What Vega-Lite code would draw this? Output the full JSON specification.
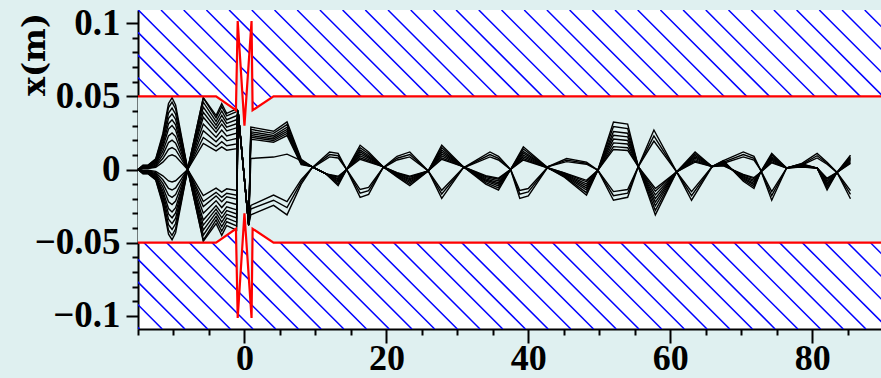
{
  "$schema": "https://vega.github.io/schema/vega-lite/v6.json",
  "width": 743,
  "height": 319,
  "autosize": {"type": "none"},
  "padding": {"left": 138, "top": 10, "right": 0, "bottom": 49},
  "background": "#dff0f0",
  "config": {
    "view": {"stroke": null, "fill": "#ffffff"},
    "axis": {
      "domainColor": "#000000", "domainWidth": 2,
      "tickColor": "#000000", "tickWidth": 2,
      "grid": false,
      "labelFont": "Liberation Serif", "labelFontWeight": "bold", "labelFontSize": 36, "labelColor": "#000000",
      "labelOverlap": false, "labelFlush": false, "labelBound": false
    }
  },
  "datasets": {
    "hatch": [
      {"x": -59.741}, {"x": -56.542}, {"x": -53.344}, {"x": -50.145}, {"x": -46.946}, {"x": -43.747}, {"x": -40.548}, {"x": -37.35},
      {"x": -34.151}, {"x": -30.952}, {"x": -27.753}, {"x": -24.554}, {"x": -21.356}, {"x": -18.157}, {"x": -14.958}, {"x": -11.759},
      {"x": -8.56}, {"x": -5.362}, {"x": -2.163}, {"x": 1.036}, {"x": 4.235}, {"x": 7.434}, {"x": 10.632}, {"x": 13.831},
      {"x": 17.03}, {"x": 20.229}, {"x": 23.428}, {"x": 26.626}, {"x": 29.825}, {"x": 33.024}, {"x": 36.223}, {"x": 39.422},
      {"x": 42.62}, {"x": 45.819}, {"x": 49.018}, {"x": 52.217}, {"x": 55.416}, {"x": 58.614}, {"x": 61.813}, {"x": 65.012},
      {"x": 68.211}, {"x": 71.41}, {"x": 74.608}, {"x": 77.807}, {"x": 81.006}, {"x": 84.205}, {"x": 87.404}
    ],
    "wall": [
      {"x": -15, "y": 0.05, "lo": -0.05},
      {"x": -4, "y": 0.05, "lo": -0.05},
      {"x": -1.2, "y": 0.0405, "lo": -0.0405},
      {"x": -0.95, "y": 0.1015, "lo": -0.1015},
      {"x": 0, "y": 0.03, "lo": -0.03},
      {"x": 1, "y": 0.1015, "lo": -0.1015},
      {"x": 1.15, "y": 0.0405, "lo": -0.0405},
      {"x": 4.1, "y": 0.05, "lo": -0.05},
      {"x": 89.7, "y": 0.05, "lo": -0.05}
    ],
    "beam": [
      {"id":"t01","x":-15,"y":0},{"id":"t01","x":-14.3,"y":0.0029},{"id":"t01","x":-13.6,"y":0.0029},{"id":"t01","x":-12.5,"y":0.0074},{"id":"t01","x":-11.5,"y":0.0245},{"id":"t01","x":-10.7,"y":0.0451},{"id":"t01","x":-10.2,"y":0.049},{"id":"t01","x":-9.7,"y":0.0441},{"id":"t01","x":-8,"y":0},{"id":"t01","x":-5.8,"y":-0.049},{"id":"t01","x":-4,"y":-0.0369},{"id":"t01","x":-3.2,"y":-0.045},{"id":"t01","x":-2.5,"y":-0.0383},{"id":"t01","x":-1.1,"y":-0.0414},{"id":"t01","x":-0.9,"y":0.04},
      {"id":"t01","x":0.6,"y":-0.038},{"id":"t01","x":0.9,"y":-0.031},{"id":"t01","x":4.1,"y":-0.0245},{"id":"t01","x":6,"y":-0.031},{"id":"t01","x":8,"y":-0.01},{"id":"t01","x":9.5,"y":0.001},{"id":"t01","x":12,"y":0.012},{"id":"t01","x":13.2,"y":0.011},{"id":"t01","x":14.4,"y":0},{"id":"t01","x":16.3,"y":-0.019},{"id":"t01","x":17.5,"y":-0.017},{"id":"t01","x":19.5,"y":0.001},{"id":"t01","x":21.5,"y":0.009},{"id":"t01","x":23.3,"y":0.012},{"id":"t01","x":25.9,"y":-0.001},{"id":"t01","x":27.8,"y":-0.0197},{"id":"t01","x":30.8,"y":0.001},{"id":"t01","x":34.6,"y":0.012},{"id":"t01","x":35.8,"y":0.009},{"id":"t01","x":37.5,"y":0},{"id":"t01","x":38.8,"y":-0.0198},{"id":"t01","x":40,"y":-0.018},{"id":"t01","x":42.8,"y":0.002},{"id":"t01","x":45.4,"y":0.0075},{"id":"t01","x":48.2,"y":0.005},{"id":"t01","x":49.8,"y":-0.0005},{"id":"t01","x":52,"y":-0.021},{"id":"t01","x":54,"y":-0.019},{"id":"t01","x":55.5,"y":0.002},{"id":"t01","x":57.7,"y":0.027},{"id":"t01","x":60.9,"y":-0.0016},{"id":"t01","x":63,"y":-0.021},{"id":"t01","x":65.9,"y":0.002},{"id":"t01","x":67.5,"y":0.006},{"id":"t01","x":70.3,"y":0.012},{"id":"t01","x":71.8,"y":0.009},{"id":"t01","x":72.7,"y":0},{"id":"t01","x":74.3,"y":-0.021},{"id":"t01","x":76.4,"y":0.001},{"id":"t01","x":78.5,"y":0.004},{"id":"t01","x":80.7,"y":0.011},{"id":"t01","x":82.1,"y":0.005},{"id":"t01","x":83.5,"y":-0.002},{"id":"t01","x":85.4,"y":-0.02},

      {"id":"t02","x":-15,"y":0},{"id":"t02","x":-14.3,"y":0.0028},{"id":"t02","x":-13.6,"y":0.0028},{"id":"t02","x":-12.5,"y":0.0069},{"id":"t02","x":-11.5,"y":0.023},{"id":"t02","x":-10.7,"y":0.0423},{"id":"t02","x":-10.2,"y":0.046},{"id":"t02","x":-9.7,"y":0.0414},{"id":"t02","x":-8,"y":0},{"id":"t02","x":-5.8,"y":-0.0483},{"id":"t02","x":-4,"y":-0.0344},{"id":"t02","x":-3.2,"y":-0.042},{"id":"t02","x":-2.5,"y":-0.0357},{"id":"t02","x":-1.1,"y":-0.0386},{"id":"t02","x":-0.9,"y":0.04},
      {"id":"t02","x":0.6,"y":-0.038},{"id":"t02","x":0.9,"y":-0.027},{"id":"t02","x":4.1,"y":-0.021},{"id":"t02","x":6,"y":-0.026},{"id":"t02","x":8,"y":-0.0085},{"id":"t02","x":9.5,"y":0.001},{"id":"t02","x":12,"y":0.0102},{"id":"t02","x":13.2,"y":0.0094},{"id":"t02","x":14.4,"y":0},{"id":"t02","x":16.3,"y":-0.0162},{"id":"t02","x":17.5,"y":-0.0145},{"id":"t02","x":19.5,"y":0.001},{"id":"t02","x":21.5,"y":0.0077},{"id":"t02","x":23.3,"y":0.0102},{"id":"t02","x":25.9,"y":-0.001},{"id":"t02","x":27.8,"y":-0.0167},{"id":"t02","x":30.8,"y":0.001},{"id":"t02","x":34.6,"y":0.0102},{"id":"t02","x":35.8,"y":0.0077},{"id":"t02","x":37.5,"y":0},{"id":"t02","x":38.8,"y":-0.0168},{"id":"t02","x":40,"y":-0.0153},{"id":"t02","x":42.8,"y":0.002},{"id":"t02","x":45.4,"y":0.0064},{"id":"t02","x":48.2,"y":0.0043},{"id":"t02","x":49.8,"y":-0.0005},{"id":"t02","x":52,"y":-0.0179},{"id":"t02","x":54,"y":-0.0162},{"id":"t02","x":55.5,"y":0.002},{"id":"t02","x":57.7,"y":0.023},{"id":"t02","x":60.9,"y":-0.0016},{"id":"t02","x":63,"y":-0.0179},{"id":"t02","x":65.9,"y":0.002},{"id":"t02","x":67.5,"y":0.0051},{"id":"t02","x":70.3,"y":0.0102},{"id":"t02","x":71.8,"y":0.0077},{"id":"t02","x":72.7,"y":0},{"id":"t02","x":74.3,"y":-0.0179},{"id":"t02","x":76.4,"y":0.001},{"id":"t02","x":78.5,"y":0.0034},{"id":"t02","x":80.7,"y":0.0094},{"id":"t02","x":82.1,"y":0.0043},{"id":"t02","x":83.5,"y":-0.002},{"id":"t02","x":85.4,"y":-0.017},

      {"id":"t03","x":-15,"y":0},{"id":"t03","x":-14.3,"y":0.0025},{"id":"t03","x":-13.6,"y":0.0025},{"id":"t03","x":-12.5,"y":0.0063},{"id":"t03","x":-11.5,"y":0.021},{"id":"t03","x":-10.7,"y":0.0386},{"id":"t03","x":-10.2,"y":0.042},{"id":"t03","x":-9.7,"y":0.0378},{"id":"t03","x":-8,"y":0},{"id":"t03","x":-5.8,"y":-0.0449},{"id":"t03","x":-4,"y":-0.032},{"id":"t03","x":-3.2,"y":-0.039},{"id":"t03","x":-2.5,"y":-0.0332},{"id":"t03","x":-1.1,"y":-0.0359},{"id":"t03","x":-0.9,"y":0.04},
      {"id":"t03","x":0.6,"y":-0.038},{"id":"t03","x":0.9,"y":-0.0245},{"id":"t03","x":4.1,"y":-0.0175},{"id":"t03","x":6,"y":-0.022},{"id":"t03","x":8,"y":-0.007},{"id":"t03","x":9.5,"y":0.001},{"id":"t03","x":12,"y":0.0086},{"id":"t03","x":13.2,"y":0.0079},{"id":"t03","x":14.4,"y":0},{"id":"t03","x":16.3,"y":-0.0137},{"id":"t03","x":17.5,"y":-0.0122},{"id":"t03","x":19.5,"y":0.001},{"id":"t03","x":21.5,"y":0.0065},{"id":"t03","x":23.3,"y":0.0086},{"id":"t03","x":25.9,"y":-0.001},{"id":"t03","x":27.8,"y":-0.0142},{"id":"t03","x":30.8,"y":0.001},{"id":"t03","x":34.6,"y":0.0086},{"id":"t03","x":35.8,"y":0.0065},{"id":"t03","x":37.5,"y":0},{"id":"t03","x":38.8,"y":-0.0143},{"id":"t03","x":40,"y":-0.013},{"id":"t03","x":42.8,"y":0.002},{"id":"t03","x":45.4,"y":0.0054},{"id":"t03","x":48.2,"y":0.0036},{"id":"t03","x":49.8,"y":-0.0005},{"id":"t03","x":52,"y":-0.0151},{"id":"t03","x":54,"y":-0.0137},{"id":"t03","x":55.5,"y":0.002},{"id":"t03","x":57.7,"y":0.0194},{"id":"t03","x":60.9,"y":-0.0016},{"id":"t03","x":63,"y":-0.0151},{"id":"t03","x":65.9,"y":0.002},{"id":"t03","x":67.5,"y":0.0043},{"id":"t03","x":70.3,"y":0.0086},{"id":"t03","x":71.8,"y":0.0065},{"id":"t03","x":72.7,"y":0},{"id":"t03","x":74.3,"y":-0.0151},{"id":"t03","x":76.4,"y":0.001},{"id":"t03","x":78.5,"y":0.0029},{"id":"t03","x":80.7,"y":0.0079},{"id":"t03","x":82.1,"y":0.0036},{"id":"t03","x":83.5,"y":-0.002},{"id":"t03","x":85.4,"y":-0.0144},

      {"id":"t04","x":-15,"y":0},{"id":"t04","x":-14.3,"y":0.0023},{"id":"t04","x":-13.6,"y":0.0023},{"id":"t04","x":-12.5,"y":0.0057},{"id":"t04","x":-11.5,"y":0.019},{"id":"t04","x":-10.7,"y":0.035},{"id":"t04","x":-10.2,"y":0.038},{"id":"t04","x":-9.7,"y":0.0342},{"id":"t04","x":-8,"y":0},{"id":"t04","x":-5.8,"y":-0.0414},{"id":"t04","x":-4,"y":-0.0295},{"id":"t04","x":-3.2,"y":-0.036},{"id":"t04","x":-2.5,"y":-0.0306},{"id":"t04","x":-1.1,"y":-0.0331},{"id":"t04","x":-0.9,"y":0.04},
      {"id":"t05","x":-15,"y":0},{"id":"t05","x":-14.3,"y":0.002},{"id":"t05","x":-13.6,"y":0.002},{"id":"t05","x":-12.5,"y":0.0051},{"id":"t05","x":-11.5,"y":0.017},{"id":"t05","x":-10.7,"y":0.0313},{"id":"t05","x":-10.2,"y":0.034},{"id":"t05","x":-9.7,"y":0.0306},{"id":"t05","x":-8,"y":0},{"id":"t05","x":-5.8,"y":-0.038},{"id":"t05","x":-4,"y":-0.0271},{"id":"t05","x":-3.2,"y":-0.033},{"id":"t05","x":-2.5,"y":-0.0281},{"id":"t05","x":-1.1,"y":-0.0304},{"id":"t05","x":-0.9,"y":0.04},
      {"id":"t06","x":-15,"y":0},{"id":"t06","x":-14.3,"y":0.0018},{"id":"t06","x":-13.6,"y":0.0018},{"id":"t06","x":-12.5,"y":0.0045},{"id":"t06","x":-11.5,"y":0.015},{"id":"t06","x":-10.7,"y":0.0276},{"id":"t06","x":-10.2,"y":0.03},{"id":"t06","x":-9.7,"y":0.027},{"id":"t06","x":-8,"y":0},{"id":"t06","x":-5.8,"y":-0.0345},{"id":"t06","x":-4,"y":-0.0246},{"id":"t06","x":-3.2,"y":-0.03},{"id":"t06","x":-2.5,"y":-0.0255},{"id":"t06","x":-1.1,"y":-0.0276},{"id":"t06","x":-0.9,"y":0.04},
      {"id":"t07","x":-15,"y":0},{"id":"t07","x":-14.3,"y":0.0015},{"id":"t07","x":-13.6,"y":0.0015},{"id":"t07","x":-12.5,"y":0.0038},{"id":"t07","x":-11.5,"y":0.0125},{"id":"t07","x":-10.7,"y":0.023},{"id":"t07","x":-10.2,"y":0.025},{"id":"t07","x":-9.7,"y":0.0225},{"id":"t07","x":-8,"y":0},{"id":"t07","x":-5.8,"y":-0.0299},{"id":"t07","x":-4,"y":-0.0213},{"id":"t07","x":-3.2,"y":-0.026},{"id":"t07","x":-2.5,"y":-0.0221},{"id":"t07","x":-1.1,"y":-0.0239},{"id":"t07","x":-0.9,"y":0.04},
      {"id":"t08","x":-15,"y":0},{"id":"t08","x":-14.3,"y":0.0012},{"id":"t08","x":-13.6,"y":0.0012},{"id":"t08","x":-12.5,"y":0.003},{"id":"t08","x":-11.5,"y":0.01},{"id":"t08","x":-10.7,"y":0.0184},{"id":"t08","x":-10.2,"y":0.02},{"id":"t08","x":-9.7,"y":0.018},{"id":"t08","x":-8,"y":0},{"id":"t08","x":-5.8,"y":-0.0253},{"id":"t08","x":-4,"y":-0.018},{"id":"t08","x":-3.2,"y":-0.022},{"id":"t08","x":-2.5,"y":-0.0187},{"id":"t08","x":-1.1,"y":-0.0202},{"id":"t08","x":-0.9,"y":0.04},
      {"id":"t09","x":-15,"y":0},{"id":"t09","x":-14.3,"y":0.0009},{"id":"t09","x":-13.6,"y":0.0009},{"id":"t09","x":-12.5,"y":0.0023},{"id":"t09","x":-11.5,"y":0.0075},{"id":"t09","x":-10.7,"y":0.0138},{"id":"t09","x":-10.2,"y":0.015},{"id":"t09","x":-9.7,"y":0.0135},{"id":"t09","x":-8,"y":0},{"id":"t09","x":-5.8,"y":-0.0219},{"id":"t09","x":-4,"y":-0.0156},{"id":"t09","x":-3.2,"y":-0.019},{"id":"t09","x":-2.5,"y":-0.0162},{"id":"t09","x":-1.1,"y":-0.0175},{"id":"t09","x":-0.9,"y":0.04},
      {"id":"t10","x":-15,"y":0},{"id":"t10","x":-14.3,"y":0.0006},{"id":"t10","x":-13.6,"y":0.0006},{"id":"t10","x":-12.5,"y":0.0015},{"id":"t10","x":-11.5,"y":0.005},{"id":"t10","x":-10.7,"y":0.0092},{"id":"t10","x":-10.2,"y":0.01},{"id":"t10","x":-9.7,"y":0.009},{"id":"t10","x":-8,"y":0},{"id":"t10","x":-5.8,"y":-0.0178},{"id":"t10","x":-4,"y":-0.0127},{"id":"t10","x":-3.2,"y":-0.0155},{"id":"t10","x":-2.5,"y":-0.0132},{"id":"t10","x":-1.1,"y":-0.0143},{"id":"t10","x":-0.9,"y":0.04},

      {"id":"t11","x":-15,"y":0},{"id":"t11","x":-14.3,"y":-0.0029},{"id":"t11","x":-13.6,"y":-0.0029},{"id":"t11","x":-12.5,"y":-0.0072},{"id":"t11","x":-11.5,"y":-0.024},{"id":"t11","x":-10.7,"y":-0.0442},{"id":"t11","x":-10.2,"y":-0.048},{"id":"t11","x":-9.7,"y":-0.0432},{"id":"t11","x":-8,"y":0},{"id":"t11","x":-5.8,"y":0.049},{"id":"t11","x":-4,"y":0.0369},{"id":"t11","x":-3.2,"y":0.045},{"id":"t11","x":-2.5,"y":0.0383},{"id":"t11","x":-1.1,"y":0.0414},{"id":"t11","x":-0.9,"y":0.04},
      {"id":"t11","x":0.6,"y":-0.038},{"id":"t11","x":0.9,"y":0.029},{"id":"t11","x":4.1,"y":0.0261},{"id":"t11","x":6,"y":0.0325},{"id":"t11","x":8,"y":0.007},{"id":"t11","x":9.5,"y":0.002},{"id":"t11","x":11.5,"y":-0.003},{"id":"t11","x":13.2,"y":-0.011},{"id":"t11","x":14.4,"y":0},{"id":"t11","x":16.3,"y":0.0166},{"id":"t11","x":17.5,"y":0.012},{"id":"t11","x":19.5,"y":0.002},{"id":"t11","x":21.5,"y":-0.005},{"id":"t11","x":23.3,"y":-0.011},{"id":"t11","x":25.9,"y":-0.001},{"id":"t11","x":27.8,"y":0.0166},{"id":"t11","x":30.8,"y":0.002},{"id":"t11","x":34,"y":-0.01},{"id":"t11","x":35.8,"y":-0.014},{"id":"t11","x":37.5,"y":0},{"id":"t11","x":39.3,"y":0.0155},{"id":"t11","x":42.8,"y":0.001},{"id":"t11","x":45,"y":-0.005},{"id":"t11","x":48.2,"y":-0.0175},{"id":"t11","x":49.8,"y":-0.0005},{"id":"t11","x":52,"y":0.0325},{"id":"t11","x":54,"y":0.031},{"id":"t11","x":55.5,"y":0.002},{"id":"t11","x":57.9,"y":-0.031},{"id":"t11","x":60.9,"y":-0.0016},{"id":"t11","x":63.5,"y":0.012},{"id":"t11","x":65.9,"y":0.002},{"id":"t11","x":67.5,"y":0.006},{"id":"t11","x":70.3,"y":-0.008},{"id":"t11","x":71.8,"y":-0.013},{"id":"t11","x":72.7,"y":-0.002},{"id":"t11","x":74.3,"y":0.011},{"id":"t11","x":76.4,"y":0.001},{"id":"t11","x":78.5,"y":0.004},{"id":"t11","x":80.7,"y":0.001},{"id":"t11","x":82.1,"y":-0.014},{"id":"t11","x":83.5,"y":-0.002},{"id":"t11","x":85.4,"y":0.0098},

      {"id":"t12","x":-15,"y":0},{"id":"t12","x":-14.3,"y":-0.0027},{"id":"t12","x":-13.6,"y":-0.0027},{"id":"t12","x":-12.5,"y":-0.0068},{"id":"t12","x":-11.5,"y":-0.0225},{"id":"t12","x":-10.7,"y":-0.0414},{"id":"t12","x":-10.2,"y":-0.045},{"id":"t12","x":-9.7,"y":-0.0405},{"id":"t12","x":-8,"y":0},{"id":"t12","x":-5.8,"y":0.049},{"id":"t12","x":-4,"y":0.0353},{"id":"t12","x":-3.2,"y":0.043},{"id":"t12","x":-2.5,"y":0.0366},{"id":"t12","x":-1.1,"y":0.0396},{"id":"t12","x":-0.9,"y":0.04},
      {"id":"t12","x":0.6,"y":-0.038},{"id":"t12","x":0.9,"y":0.0274},{"id":"t12","x":4.1,"y":0.0247},{"id":"t12","x":6,"y":0.0307},{"id":"t12","x":8,"y":0.0063},{"id":"t12","x":9.5,"y":0.002},{"id":"t12","x":11.5,"y":-0.003},{"id":"t12","x":13.2,"y":-0.0099},{"id":"t12","x":14.4,"y":0},{"id":"t12","x":16.3,"y":0.0149},{"id":"t12","x":17.5,"y":0.0108},{"id":"t12","x":19.5,"y":0.002},{"id":"t12","x":21.5,"y":-0.0045},{"id":"t12","x":23.3,"y":-0.0099},{"id":"t12","x":25.9,"y":-0.001},{"id":"t12","x":27.8,"y":0.0149},{"id":"t12","x":30.8,"y":0.002},{"id":"t12","x":34,"y":-0.009},{"id":"t12","x":35.8,"y":-0.0126},{"id":"t12","x":37.5,"y":0},{"id":"t12","x":39.3,"y":0.014},{"id":"t12","x":42.8,"y":0.001},{"id":"t12","x":45,"y":-0.0045},{"id":"t12","x":48.2,"y":-0.0158},{"id":"t12","x":49.8,"y":-0.0005},{"id":"t12","x":52,"y":0.0293},{"id":"t12","x":54,"y":0.0279},{"id":"t12","x":55.5,"y":0.002},{"id":"t12","x":57.9,"y":-0.0279},{"id":"t12","x":60.9,"y":-0.0016},{"id":"t12","x":63.5,"y":0.0108},{"id":"t12","x":65.9,"y":0.002},{"id":"t12","x":67.5,"y":0.0054},{"id":"t12","x":70.3,"y":-0.0072},{"id":"t12","x":71.8,"y":-0.0117},{"id":"t12","x":72.7,"y":-0.002},{"id":"t12","x":74.3,"y":0.0099},{"id":"t12","x":76.4,"y":0.001},{"id":"t12","x":78.5,"y":0.0036},{"id":"t12","x":80.7,"y":0.001},{"id":"t12","x":82.1,"y":-0.0126},{"id":"t12","x":83.5,"y":-0.002},{"id":"t12","x":85.4,"y":0.0088},

      {"id":"t13","x":-15,"y":0},{"id":"t13","x":-14.3,"y":-0.0025},{"id":"t13","x":-13.6,"y":-0.0025},{"id":"t13","x":-12.5,"y":-0.0062},{"id":"t13","x":-11.5,"y":-0.0205},{"id":"t13","x":-10.7,"y":-0.0377},{"id":"t13","x":-10.2,"y":-0.041},{"id":"t13","x":-9.7,"y":-0.0369},{"id":"t13","x":-8,"y":0},{"id":"t13","x":-5.8,"y":0.046},{"id":"t13","x":-4,"y":0.0328},{"id":"t13","x":-3.2,"y":0.04},{"id":"t13","x":-2.5,"y":0.034},{"id":"t13","x":-1.1,"y":0.0368},{"id":"t13","x":-0.9,"y":0.04},
      {"id":"t13","x":0.6,"y":-0.038},{"id":"t13","x":0.9,"y":0.0258},{"id":"t13","x":4.1,"y":0.0232},{"id":"t13","x":6,"y":0.0289},{"id":"t13","x":8,"y":0.0056},{"id":"t13","x":9.5,"y":0.002},{"id":"t13","x":11.5,"y":-0.003},{"id":"t13","x":13.2,"y":-0.0088},{"id":"t13","x":14.4,"y":0},{"id":"t13","x":16.3,"y":0.0133},{"id":"t13","x":17.5,"y":0.0096},{"id":"t13","x":19.5,"y":0.002},{"id":"t13","x":21.5,"y":-0.004},{"id":"t13","x":23.3,"y":-0.0088},{"id":"t13","x":25.9,"y":-0.001},{"id":"t13","x":27.8,"y":0.0133},{"id":"t13","x":30.8,"y":0.002},{"id":"t13","x":34,"y":-0.008},{"id":"t13","x":35.8,"y":-0.0112},{"id":"t13","x":37.5,"y":0},{"id":"t13","x":39.3,"y":0.0124},{"id":"t13","x":42.8,"y":0.001},{"id":"t13","x":45,"y":-0.004},{"id":"t13","x":48.2,"y":-0.014},{"id":"t13","x":49.8,"y":-0.0005},{"id":"t13","x":52,"y":0.026},{"id":"t13","x":54,"y":0.0248},{"id":"t13","x":55.5,"y":0.002},{"id":"t13","x":57.9,"y":-0.0248},{"id":"t13","x":60.9,"y":-0.0016},{"id":"t13","x":63.5,"y":0.0096},{"id":"t13","x":65.9,"y":0.002},{"id":"t13","x":67.5,"y":0.0048},{"id":"t13","x":70.3,"y":-0.0064},{"id":"t13","x":71.8,"y":-0.0104},{"id":"t13","x":72.7,"y":-0.002},{"id":"t13","x":74.3,"y":0.0088},{"id":"t13","x":76.4,"y":0.001},{"id":"t13","x":78.5,"y":0.0032},{"id":"t13","x":80.7,"y":0.001},{"id":"t13","x":82.1,"y":-0.0112},{"id":"t13","x":83.5,"y":-0.002},{"id":"t13","x":85.4,"y":0.0078},

      {"id":"t14","x":-15,"y":0},{"id":"t14","x":-14.3,"y":-0.0022},{"id":"t14","x":-13.6,"y":-0.0022},{"id":"t14","x":-12.5,"y":-0.0056},{"id":"t14","x":-11.5,"y":-0.0185},{"id":"t14","x":-10.7,"y":-0.034},{"id":"t14","x":-10.2,"y":-0.037},{"id":"t14","x":-9.7,"y":-0.0333},{"id":"t14","x":-8,"y":0},{"id":"t14","x":-5.8,"y":0.0426},{"id":"t14","x":-4,"y":0.0303},{"id":"t14","x":-3.2,"y":0.037},{"id":"t14","x":-2.5,"y":0.0315},{"id":"t14","x":-1.1,"y":0.034},{"id":"t14","x":-0.9,"y":0.04},
      {"id":"t14","x":0.6,"y":-0.038},{"id":"t14","x":0.9,"y":0.0245},{"id":"t14","x":4.1,"y":0.0221},{"id":"t14","x":6,"y":0.0274},{"id":"t14","x":8,"y":0.005},{"id":"t14","x":9.5,"y":0.002},{"id":"t14","x":11.5,"y":-0.003},{"id":"t14","x":13.2,"y":-0.0079},{"id":"t14","x":14.4,"y":0},{"id":"t14","x":16.3,"y":0.012},{"id":"t14","x":17.5,"y":0.0086},{"id":"t14","x":19.5,"y":0.002},{"id":"t14","x":21.5,"y":-0.0036},{"id":"t14","x":23.3,"y":-0.0079},{"id":"t14","x":25.9,"y":-0.001},{"id":"t14","x":27.8,"y":0.012},{"id":"t14","x":30.8,"y":0.002},{"id":"t14","x":34,"y":-0.0072},{"id":"t14","x":35.8,"y":-0.0101},{"id":"t14","x":37.5,"y":0},{"id":"t14","x":39.3,"y":0.0112},{"id":"t14","x":42.8,"y":0.001},{"id":"t14","x":45,"y":-0.0036},{"id":"t14","x":48.2,"y":-0.0126},{"id":"t14","x":49.8,"y":-0.0005},{"id":"t14","x":52,"y":0.0234},{"id":"t14","x":54,"y":0.0223},{"id":"t14","x":55.5,"y":0.002},{"id":"t14","x":57.9,"y":-0.0223},{"id":"t14","x":60.9,"y":-0.0016},{"id":"t14","x":63.5,"y":0.0086},{"id":"t14","x":65.9,"y":0.002},{"id":"t14","x":67.5,"y":0.0043},{"id":"t14","x":70.3,"y":-0.0058},{"id":"t14","x":71.8,"y":-0.0094},{"id":"t14","x":72.7,"y":-0.002},{"id":"t14","x":74.3,"y":0.0079},{"id":"t14","x":76.4,"y":0.001},{"id":"t14","x":78.5,"y":0.0029},{"id":"t14","x":80.7,"y":0.001},{"id":"t14","x":82.1,"y":-0.0101},{"id":"t14","x":83.5,"y":-0.002},{"id":"t14","x":85.4,"y":0.0071},

      {"id":"t15","x":-15,"y":0},{"id":"t15","x":-14.3,"y":-0.002},{"id":"t15","x":-13.6,"y":-0.002},{"id":"t15","x":-12.5,"y":-0.005},{"id":"t15","x":-11.5,"y":-0.0165},{"id":"t15","x":-10.7,"y":-0.0304},{"id":"t15","x":-10.2,"y":-0.033},{"id":"t15","x":-9.7,"y":-0.0297},{"id":"t15","x":-8,"y":0},{"id":"t15","x":-5.8,"y":0.0391},{"id":"t15","x":-4,"y":0.0279},{"id":"t15","x":-3.2,"y":0.034},{"id":"t15","x":-2.5,"y":0.0289},{"id":"t15","x":-1.1,"y":0.0313},{"id":"t15","x":-0.9,"y":0.04},
      {"id":"t15","x":0.6,"y":-0.038},{"id":"t15","x":0.9,"y":0.0232},{"id":"t15","x":4.1,"y":0.0209},{"id":"t15","x":6,"y":0.026},{"id":"t15","x":8,"y":0.0045},{"id":"t15","x":9.5,"y":0.002},{"id":"t15","x":11.5,"y":-0.003},{"id":"t15","x":13.2,"y":-0.007},{"id":"t15","x":14.4,"y":0},{"id":"t15","x":16.3,"y":0.0106},{"id":"t15","x":17.5,"y":0.0077},{"id":"t15","x":19.5,"y":0.002},{"id":"t15","x":21.5,"y":-0.0032},{"id":"t15","x":23.3,"y":-0.007},{"id":"t15","x":25.9,"y":-0.001},{"id":"t15","x":27.8,"y":0.0106},{"id":"t15","x":30.8,"y":0.002},{"id":"t15","x":34,"y":-0.0064},{"id":"t15","x":35.8,"y":-0.009},{"id":"t15","x":37.5,"y":0},{"id":"t15","x":39.3,"y":0.0099},{"id":"t15","x":42.8,"y":0.001},{"id":"t15","x":45,"y":-0.0032},{"id":"t15","x":48.2,"y":-0.0112},{"id":"t15","x":49.8,"y":-0.0005},{"id":"t15","x":52,"y":0.0208},{"id":"t15","x":54,"y":0.0198},{"id":"t15","x":55.5,"y":0.002},{"id":"t15","x":57.9,"y":-0.0198},{"id":"t15","x":60.9,"y":-0.0016},{"id":"t15","x":63.5,"y":0.0077},{"id":"t15","x":65.9,"y":0.002},{"id":"t15","x":67.5,"y":0.0038},{"id":"t15","x":70.3,"y":-0.0051},{"id":"t15","x":71.8,"y":-0.0083},{"id":"t15","x":72.7,"y":-0.002},{"id":"t15","x":74.3,"y":0.007},{"id":"t15","x":76.4,"y":0.001},{"id":"t15","x":78.5,"y":0.0026},{"id":"t15","x":80.7,"y":0.001},{"id":"t15","x":82.1,"y":-0.009},{"id":"t15","x":83.5,"y":-0.002},{"id":"t15","x":85.4,"y":0.0063},

      {"id":"t16","x":-15,"y":0},{"id":"t16","x":-14.3,"y":-0.0017},{"id":"t16","x":-13.6,"y":-0.0017},{"id":"t16","x":-12.5,"y":-0.0044},{"id":"t16","x":-11.5,"y":-0.0145},{"id":"t16","x":-10.7,"y":-0.0267},{"id":"t16","x":-10.2,"y":-0.029},{"id":"t16","x":-9.7,"y":-0.0261},{"id":"t16","x":-8,"y":0},{"id":"t16","x":-5.8,"y":0.0357},{"id":"t16","x":-4,"y":0.0254},{"id":"t16","x":-3.2,"y":0.031},{"id":"t16","x":-2.5,"y":0.0264},{"id":"t16","x":-1.1,"y":0.0285},{"id":"t16","x":-0.9,"y":0.04},
      {"id":"t16","x":0.6,"y":-0.038},{"id":"t16","x":0.9,"y":0.022},{"id":"t16","x":4.1,"y":0.0198},{"id":"t16","x":6,"y":0.0246},{"id":"t16","x":8,"y":0.0039},{"id":"t16","x":9.5,"y":0.002},{"id":"t16","x":11.5,"y":-0.003},{"id":"t16","x":13.2,"y":-0.0062},{"id":"t16","x":14.4,"y":0},{"id":"t16","x":16.3,"y":0.0093},{"id":"t16","x":17.5,"y":0.0067},{"id":"t16","x":19.5,"y":0.002},{"id":"t16","x":21.5,"y":-0.0028},{"id":"t16","x":23.3,"y":-0.0062},{"id":"t16","x":25.9,"y":-0.001},{"id":"t16","x":27.8,"y":0.0093},{"id":"t16","x":30.8,"y":0.002},{"id":"t16","x":34,"y":-0.0056},{"id":"t16","x":35.8,"y":-0.0078},{"id":"t16","x":37.5,"y":0},{"id":"t16","x":39.3,"y":0.0087},{"id":"t16","x":42.8,"y":0.001},{"id":"t16","x":45,"y":-0.0028},{"id":"t16","x":48.2,"y":-0.0098},{"id":"t16","x":49.8,"y":-0.0005},{"id":"t16","x":52,"y":0.0182},{"id":"t16","x":54,"y":0.0174},{"id":"t16","x":55.5,"y":0.002},{"id":"t16","x":57.9,"y":-0.0174},{"id":"t16","x":60.9,"y":-0.0016},{"id":"t16","x":63.5,"y":0.0067},{"id":"t16","x":65.9,"y":0.002},{"id":"t16","x":67.5,"y":0.0034},{"id":"t16","x":70.3,"y":-0.0045},{"id":"t16","x":71.8,"y":-0.0073},{"id":"t16","x":72.7,"y":-0.002},{"id":"t16","x":74.3,"y":0.0062},{"id":"t16","x":76.4,"y":0.001},{"id":"t16","x":78.5,"y":0.0022},{"id":"t16","x":80.7,"y":0.001},{"id":"t16","x":82.1,"y":-0.0078},{"id":"t16","x":83.5,"y":-0.002},{"id":"t16","x":85.4,"y":0.0055},

      {"id":"t17","x":-15,"y":0},{"id":"t17","x":-14.3,"y":-0.0014},{"id":"t17","x":-13.6,"y":-0.0014},{"id":"t17","x":-12.5,"y":-0.0036},{"id":"t17","x":-11.5,"y":-0.012},{"id":"t17","x":-10.7,"y":-0.0221},{"id":"t17","x":-10.2,"y":-0.024},{"id":"t17","x":-9.7,"y":-0.0216},{"id":"t17","x":-8,"y":0},{"id":"t17","x":-5.8,"y":0.0311},{"id":"t17","x":-4,"y":0.0221},{"id":"t17","x":-3.2,"y":0.027},{"id":"t17","x":-2.5,"y":0.023},{"id":"t17","x":-1.1,"y":0.0248},{"id":"t17","x":-0.9,"y":0.04},
      {"id":"t17","x":0.6,"y":-0.038},{"id":"t17","x":0.9,"y":0.0207},{"id":"t17","x":4.1,"y":0.0186},{"id":"t17","x":6,"y":0.0232},{"id":"t17","x":8,"y":0.0034},{"id":"t17","x":9.5,"y":0.002},{"id":"t17","x":11.5,"y":-0.003},{"id":"t17","x":13.2,"y":-0.0053},{"id":"t17","x":14.4,"y":0},{"id":"t17","x":16.3,"y":0.008},{"id":"t17","x":17.5,"y":0.0058},{"id":"t17","x":19.5,"y":0.002},{"id":"t17","x":21.5,"y":-0.0024},{"id":"t17","x":23.3,"y":-0.0053},{"id":"t17","x":25.9,"y":-0.001},{"id":"t17","x":27.8,"y":0.008},{"id":"t17","x":30.8,"y":0.002},{"id":"t17","x":34,"y":-0.0048},{"id":"t17","x":35.8,"y":-0.0067},{"id":"t17","x":37.5,"y":0},{"id":"t17","x":39.3,"y":0.0074},{"id":"t17","x":42.8,"y":0.001},{"id":"t17","x":45,"y":-0.0024},{"id":"t17","x":48.2,"y":-0.0084},{"id":"t17","x":49.8,"y":-0.0005},{"id":"t17","x":52,"y":0.0156},{"id":"t17","x":54,"y":0.0149},{"id":"t17","x":55.5,"y":0.002},{"id":"t17","x":57.9,"y":-0.0149},{"id":"t17","x":60.9,"y":-0.0016},{"id":"t17","x":63.5,"y":0.0058},{"id":"t17","x":65.9,"y":0.002},{"id":"t17","x":67.5,"y":0.0029},{"id":"t17","x":70.3,"y":-0.0038},{"id":"t17","x":71.8,"y":-0.0062},{"id":"t17","x":72.7,"y":-0.002},{"id":"t17","x":74.3,"y":0.0053},{"id":"t17","x":76.4,"y":0.001},{"id":"t17","x":78.5,"y":0.0019},{"id":"t17","x":80.7,"y":0.001},{"id":"t17","x":82.1,"y":-0.0067},{"id":"t17","x":83.5,"y":-0.002},{"id":"t17","x":85.4,"y":0.0047},

      {"id":"t18","x":-15,"y":0},{"id":"t18","x":-14.3,"y":-0.0011},{"id":"t18","x":-13.6,"y":-0.0011},{"id":"t18","x":-12.5,"y":-0.0029},{"id":"t18","x":-11.5,"y":-0.0095},{"id":"t18","x":-10.7,"y":-0.0175},{"id":"t18","x":-10.2,"y":-0.019},{"id":"t18","x":-9.7,"y":-0.0171},{"id":"t18","x":-8,"y":0},{"id":"t18","x":-5.8,"y":0.0265},{"id":"t18","x":-4,"y":0.0189},{"id":"t18","x":-3.2,"y":0.023},{"id":"t18","x":-2.5,"y":0.0196},{"id":"t18","x":-1.1,"y":0.0212},{"id":"t18","x":-0.9,"y":0.04},
      {"id":"t18","x":0.6,"y":-0.038},{"id":"t18","x":0.9,"y":0.0075},{"id":"t18","x":4.1,"y":0.0085},{"id":"t18","x":6,"y":0.0105},{"id":"t18","x":8,"y":0.006},{"id":"t18","x":9.5,"y":0.002},{"id":"t18","x":11.5,"y":-0.003},{"id":"t18","x":13.2,"y":-0.0046},{"id":"t18","x":14.4,"y":0},{"id":"t18","x":16.3,"y":0.007},{"id":"t18","x":17.5,"y":0.005},{"id":"t18","x":19.5,"y":0.002},{"id":"t18","x":21.5,"y":-0.0021},{"id":"t18","x":23.3,"y":-0.0046},{"id":"t18","x":25.9,"y":-0.001},{"id":"t18","x":27.8,"y":0.007},{"id":"t18","x":30.8,"y":0.002},{"id":"t18","x":34,"y":-0.0042},{"id":"t18","x":35.8,"y":-0.0059},{"id":"t18","x":37.5,"y":0},{"id":"t18","x":39.3,"y":0.0065},{"id":"t18","x":42.8,"y":0.001},{"id":"t18","x":45,"y":-0.0021},{"id":"t18","x":48.2,"y":-0.0074},{"id":"t18","x":49.8,"y":-0.0005},{"id":"t18","x":52,"y":0.0137},{"id":"t18","x":54,"y":0.013},{"id":"t18","x":55.5,"y":0.002},{"id":"t18","x":57.9,"y":-0.013},{"id":"t18","x":60.9,"y":-0.0016},{"id":"t18","x":63.5,"y":0.005},{"id":"t18","x":65.9,"y":0.002},{"id":"t18","x":67.5,"y":0.0025},{"id":"t18","x":70.3,"y":-0.0034},{"id":"t18","x":71.8,"y":-0.0055},{"id":"t18","x":72.7,"y":-0.002},{"id":"t18","x":74.3,"y":0.0046},{"id":"t18","x":76.4,"y":0.001},{"id":"t18","x":78.5,"y":0.0017},{"id":"t18","x":80.7,"y":0.001},{"id":"t18","x":82.1,"y":-0.0059},{"id":"t18","x":83.5,"y":-0.002},{"id":"t18","x":85.4,"y":0.0041},

      {"id":"t19","x":-15,"y":0},{"id":"t19","x":-14.3,"y":-0.0008},{"id":"t19","x":-13.6,"y":-0.0008},{"id":"t19","x":-12.5,"y":-0.0021},{"id":"t19","x":-11.5,"y":-0.007},{"id":"t19","x":-10.7,"y":-0.0129},{"id":"t19","x":-10.2,"y":-0.014},{"id":"t19","x":-9.7,"y":-0.0126},{"id":"t19","x":-8,"y":0},{"id":"t19","x":-5.8,"y":0.0219},{"id":"t19","x":-4,"y":0.0156},{"id":"t19","x":-3.2,"y":0.019},{"id":"t19","x":-2.5,"y":0.0162},{"id":"t19","x":-1.1,"y":0.0175},{"id":"t19","x":-0.9,"y":0.04},
      {"id":"t20","x":-15,"y":0},{"id":"t20","x":-14.3,"y":-0.0005},{"id":"t20","x":-13.6,"y":-0.0005},{"id":"t20","x":-12.5,"y":-0.0013},{"id":"t20","x":-11.5,"y":-0.0043},{"id":"t20","x":-10.7,"y":-0.0078},{"id":"t20","x":-10.2,"y":-0.0085},{"id":"t20","x":-9.7,"y":-0.0077},{"id":"t20","x":-8,"y":0},{"id":"t20","x":-5.8,"y":0.0178},{"id":"t20","x":-4,"y":0.0127},{"id":"t20","x":-3.2,"y":0.0155},{"id":"t20","x":-2.5,"y":0.0132},{"id":"t20","x":-1.1,"y":0.0143},{"id":"t20","x":-0.9,"y":0.04}
    ]
  },
  "encoding": {
    "x": {
      "field": "x", "type": "quantitative",
      "scale": {"domain": [-15, 89.7], "nice": false, "zero": false},
      "axis": {
        "title": null,
        "values": [-15, -10, -5, 0, 5, 10, 15, 20, 25, 30, 35, 40, 45, 50, 55, 60, 65, 70, 75, 80, 85],
        "labelExpr": "datum.value % 20 === 0 ? datum.label : ''",
        "tickSize": {"condition": {"test": "datum.value % 20 === 0", "value": 14}, "value": 6},
        "labelPadding": -2
      }
    },
    "y": {
      "field": "y", "type": "quantitative",
      "scale": {"domain": [-0.109, 0.109], "nice": false, "zero": false},
      "axis": {
        "title": "x(m)",
        "values": [-0.1, -0.09, -0.08, -0.07, -0.06, -0.05, -0.04, -0.03, -0.02, -0.01, 0, 0.01, 0.02, 0.03, 0.04, 0.05, 0.06, 0.07, 0.08, 0.09, 0.1],
        "labelExpr": "abs(round(datum.value * 100)) % 5 === 0 ? format(datum.value, '~g') : ''",
        "tickSize": {"condition": {"test": "abs(round(datum.value * 100)) % 5 === 0", "value": 12}, "value": 6},
        "labelPadding": 6,
        "labelFontSize": 37,
        "titleFont": "DejaVu Serif", "titleFontWeight": "bold", "titleFontSize": 32, "titleColor": "#000000",
        "titleAngle": 270, "titleAlign": "center", "titleBaseline": "alphabetic",
        "titleX": -94, "titleY": 44
      }
    }
  },
  "layer": [
    {
      "data": {"name": "hatch"},
      "mark": {"type": "rule", "color": "#0000ff", "strokeWidth": 1.5, "clip": true, "x2Offset": 319},
      "encoding": {
        "x2": {"field": "x"},
        "y": {"value": 0},
        "y2": {"value": "height"}
      }
    },
    {
      "data": {"name": "wall"},
      "mark": {"type": "area", "fill": "#dff0f0", "stroke": null},
      "encoding": {"y2": {"field": "lo"}}
    },
    {
      "data": {"name": "beam"},
      "mark": {"type": "line", "color": "#000000", "strokeWidth": 1.4},
      "encoding": {"detail": {"field": "id"}}
    },
    {
      "data": {"name": "wall"},
      "mark": {"type": "line", "color": "#ff0000", "strokeWidth": 2.2},
      "encoding": {}
    },
    {
      "data": {"name": "wall"},
      "transform": [{"fold": ["lo"], "as": ["edge", "y"]}],
      "mark": {"type": "line", "color": "#ff0000", "strokeWidth": 2.2},
      "encoding": {}
    },
    {
      "data": {"values": [{"edge": "top"}]},
      "mark": {"type": "rule", "color": "#000000", "strokeWidth": 2},
      "encoding": {"y": {"datum": 0.109, "type": "quantitative"}, "x": {"value": 0}, "x2": {"value": "width"}}
    }
  ]
}
